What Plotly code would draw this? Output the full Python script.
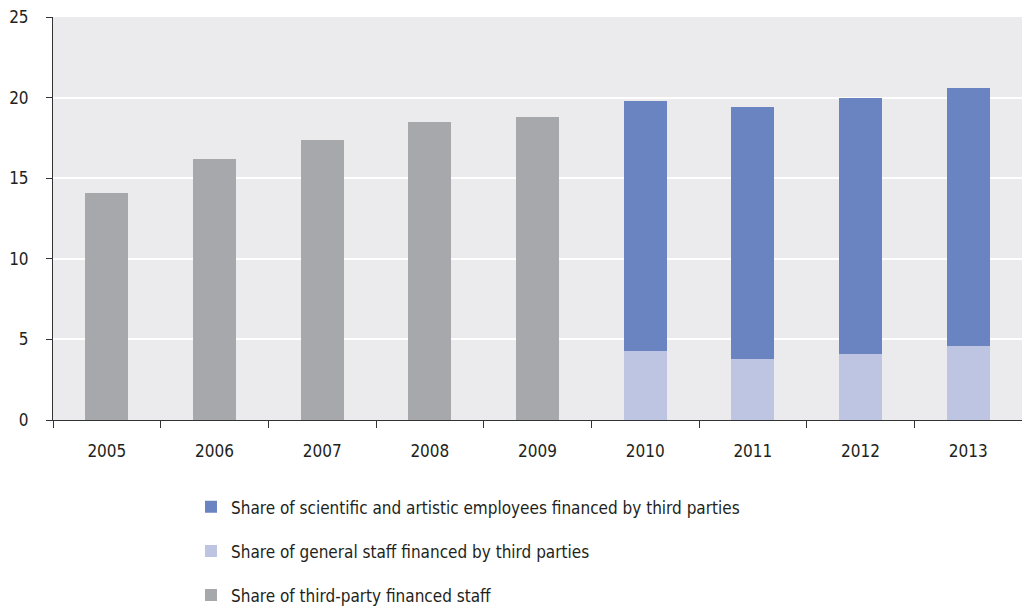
import plotly.graph_objects as go

years = ["2005", "2006", "2007", "2008", "2009", "2010", "2011", "2012", "2013"]
third_party_total = [14.1, 16.2, 17.4, 18.5, 18.8, None, None, None, None]
general_staff = [None, None, None, None, None, 4.3, 3.8, 4.1, 4.6]
scientific_staff = [None, None, None, None, None, 15.5, 15.6, 15.9, 16.0]

FONT = "Liberation Sans Narrow, DejaVu Sans Condensed, Roboto, sans-serif"
TEXT = "#231f20"
SIZE = 17

fig = go.Figure()
fig.add_trace(go.Bar(
    x=years, y=general_staff, name="Share of general staff financed by third parties",
    marker=dict(color="#bdc5e2", line=dict(width=0)), legendrank=2, legendgroup="g",
))
fig.add_trace(go.Bar(
    x=years, y=scientific_staff,
    name="Share of scientific and artistic employees financed by third parties",
    marker=dict(color="#6a84c1", line=dict(width=0)), legendrank=1, legendgroup="s",
))
fig.add_trace(go.Bar(
    x=years, y=third_party_total, name="Share of third-party financed staff",
    marker=dict(color="#a7a8ab", line=dict(width=0)), legendrank=3, legendgroup="t",
))

fig.update_layout(
    width=1022, height=610,
    margin=dict(l=53, r=0, t=17, b=190, autoexpand=False),
    barmode="stack", bargap=0.6,
    plot_bgcolor="#ebebed", paper_bgcolor="white",
    font=dict(family=FONT, size=SIZE, color=TEXT),
    legend=dict(
        x=0.1424, y=-0.172, xanchor="left", yanchor="top",
        orientation="v", tracegroupgap=19, font=dict(size=SIZE),
        itemsizing="constant",
    ),
    showlegend=True,
)
fig.update_xaxes(
    type="category", showgrid=False, showline=True, linecolor="#333333", linewidth=1,
    ticks="outside", tickson="boundaries", ticklen=7, tickcolor="#333333",
    ticklabelstandoff=16, tickfont=dict(size=SIZE, color=TEXT),
)
fig.update_yaxes(
    range=[0, 25], dtick=5, showgrid=True, gridcolor="white", gridwidth=2,
    showline=True, linecolor="#333333", linewidth=1, zeroline=False,
    ticks="outside", ticklen=6, tickcolor="#333333", ticklabelstandoff=14,
    tickfont=dict(size=SIZE, color=TEXT),
)

fig.write_html("out.html")
